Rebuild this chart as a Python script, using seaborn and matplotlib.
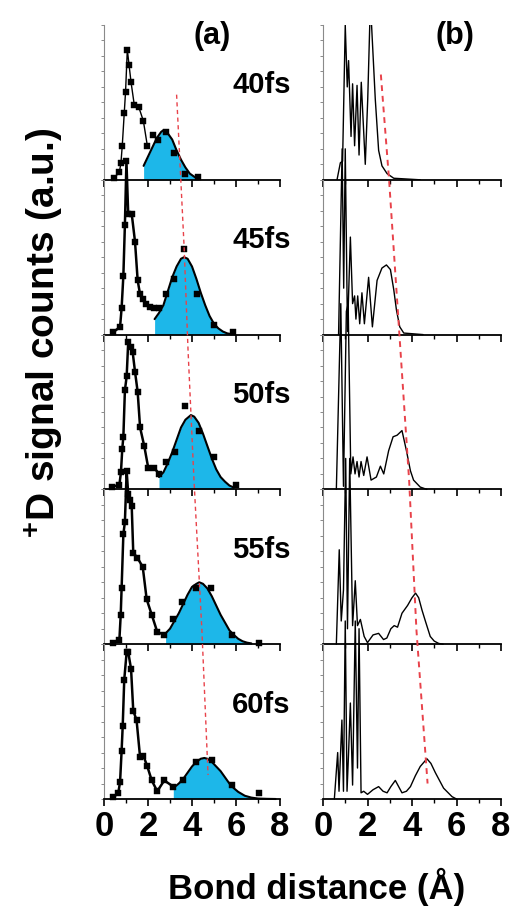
import numpy as np
import matplotlib
matplotlib.use('Agg')
import matplotlib.pyplot as plt
import seaborn as sns

# =====================
# DATA
# =====================
delays = ['40fs', '45fs', '50fs', '55fs', '60fs']

# (a) measured D+ counts (black squares)
sq40_x = [0.45, 0.70, 0.77, 0.83, 0.92, 0.98, 1.06, 1.14, 1.23, 1.38, 1.58, 1.79, 1.97, 2.21, 2.47, 2.80, 3.20, 3.68, 4.26]
sq40_y = [0.01, 0.05, 0.11, 0.22, 0.43, 0.57, 0.84, 0.74, 0.63, 0.48, 0.47, 0.38, 0.22, 0.29, 0.26, 0.31, 0.17, 0.04, 0.02]
sq45_x = [0.42, 0.73, 0.80, 0.88, 0.95, 1.02, 1.10, 1.26, 1.41, 1.53, 1.64, 1.76, 1.91, 2.09, 2.29, 2.50, 2.82, 3.20, 3.65, 4.24, 5.00, 5.88]
sq45_y = [0.015, 0.05, 0.17, 0.38, 0.71, 1.12, 0.78, 0.78, 0.60, 0.35, 0.26, 0.23, 0.20, 0.18, 0.17, 0.17, 0.26, 0.36, 0.55, 0.26, 0.06, 0.02]
sq50_x = [0.35, 0.70, 0.77, 0.83, 0.88, 0.95, 1.03, 1.10, 1.23, 1.30, 1.41, 1.53, 1.64, 1.83, 2.01, 2.27, 2.51, 2.82, 3.23, 3.68, 4.32, 5.00, 5.98]
sq50_y = [0.015, 0.03, 0.11, 0.26, 0.34, 0.64, 0.73, 0.95, 0.92, 0.89, 0.76, 0.63, 0.40, 0.28, 0.14, 0.14, 0.10, 0.18, 0.24, 0.54, 0.38, 0.21, 0.03]
sq55_x = [0.42, 0.70, 0.76, 0.80, 0.88, 0.95, 1.03, 1.10, 1.18, 1.26, 1.33, 1.51, 1.76, 1.94, 2.17, 2.42, 2.74, 3.12, 3.56, 4.17, 4.86, 5.80, 7.05]
sq55_y = [0.01, 0.03, 0.19, 0.36, 0.71, 0.79, 1.12, 0.97, 0.93, 0.89, 0.59, 0.56, 0.50, 0.29, 0.19, 0.08, 0.06, 0.16, 0.27, 0.36, 0.36, 0.06, 0.01]
sq60_x = [0.42, 0.65, 0.73, 0.80, 0.85, 0.92, 1.03, 1.10, 1.23, 1.33, 1.48, 1.64, 1.79, 1.97, 2.17, 2.42, 2.74, 3.15, 3.57, 4.18, 4.89, 5.83, 7.06]
sq60_y = [0.01, 0.04, 0.11, 0.31, 0.47, 0.77, 0.95, 0.95, 0.84, 0.57, 0.51, 0.27, 0.28, 0.21, 0.12, 0.05, 0.12, 0.08, 0.12, 0.24, 0.25, 0.09, 0.04]
# number of squares joined by the black line (the rest sit on the fit)
n_joined = [13, 15, 17, 17, 18]

# (a) Gaussian fits (cyan area)
fit40_x = [1.8, 2.0, 2.2, 2.4, 2.6, 2.7, 2.9, 3.1, 3.3, 3.5, 3.7, 3.9, 4.1, 4.3]
fit40_y = [0.09, 0.15, 0.21, 0.27, 0.31, 0.32, 0.30, 0.26, 0.19, 0.13, 0.08, 0.04, 0.02, 0.005]
fit45_x = [2.3, 2.5, 2.7, 2.9, 3.1, 3.3, 3.5, 3.64, 3.8, 4.0, 4.2, 4.4, 4.6, 4.8, 5.0, 5.2, 5.4, 5.6, 5.8]
fit45_y = [0.10, 0.14, 0.19, 0.28, 0.37, 0.44, 0.49, 0.50, 0.49, 0.44, 0.36, 0.27, 0.19, 0.12, 0.07, 0.04, 0.02, 0.008, 0.003]
fit50_x = [2.5, 2.7, 2.9, 3.1, 3.3, 3.5, 3.7, 3.95, 4.1, 4.3, 4.5, 4.7, 4.9, 5.1, 5.3, 5.5, 5.7, 5.9]
fit50_y = [0.08, 0.11, 0.17, 0.24, 0.32, 0.40, 0.45, 0.48, 0.47, 0.43, 0.36, 0.28, 0.20, 0.13, 0.08, 0.05, 0.025, 0.012]
fit55_x = [2.8, 3.0, 3.2, 3.4, 3.6, 3.8, 4.0, 4.2, 4.33, 4.5, 4.7, 4.9, 5.1, 5.3, 5.5, 5.7, 5.9, 6.1, 6.3, 6.5, 6.7]
fit55_y = [0.07, 0.10, 0.15, 0.20, 0.26, 0.32, 0.37, 0.39, 0.40, 0.39, 0.36, 0.31, 0.25, 0.19, 0.14, 0.09, 0.06, 0.035, 0.019, 0.010, 0.005]
fit60_x = [3.15, 3.4, 3.6, 3.8, 4.0, 4.2, 4.4, 4.56, 4.7, 4.9, 5.1, 5.3, 5.5, 5.7, 5.9, 6.1, 6.4, 6.7, 7.0, 7.4, 7.8]
fit60_y = [0.07, 0.10, 0.13, 0.17, 0.21, 0.24, 0.26, 0.265, 0.26, 0.24, 0.21, 0.18, 0.14, 0.10, 0.07, 0.046, 0.021, 0.009, 0.003, 0.001, 0.0]

# (b) simulated distributions
sim40_x = [0.63, 0.78, 0.88, 1.00, 1.09, 1.15, 1.26, 1.33, 1.42, 1.53, 1.62, 1.72, 1.90, 2.01, 2.13, 2.35, 2.50, 2.65, 2.88, 3.18, 4.37]
sim40_y = [0.0, 0.11, 0.12, 1.0, 0.60, 0.77, 0.28, 0.62, 0.22, 0.61, 0.16, 0.63, 0.10, 0.52, 1.15, 0.52, 0.19, 0.09, 0.04, 0.01, 0.0]
sim45_x = [0.70, 0.86, 0.93, 1.00, 1.10, 1.23, 1.33, 1.42, 1.48, 1.56, 1.65, 1.75, 1.86, 2.05, 2.22, 2.43, 2.65, 2.85, 3.03, 3.18, 3.30, 3.45, 3.63, 4.50]
sim45_y = [0.0, 1.2, 0.3, 1.2, 0.02, 0.63, 0.20, 0.25, 0.10, 0.25, 0.07, 0.27, 0.07, 0.37, 0.05, 0.35, 0.43, 0.45, 0.42, 0.29, 0.16, 0.05, 0.01, 0.0]
sim50_x = [0.60, 0.80, 0.92, 1.05, 1.13, 1.25, 1.35, 1.44, 1.53, 1.62, 1.71, 1.83, 1.98, 2.16, 2.40, 2.58, 2.73, 2.95, 3.15, 3.33, 3.55, 3.75, 3.93, 4.07, 4.37, 4.67]
sim50_y = [0.0, 1.2, 0.02, 1.15, 1.2, 0.10, 0.21, 0.10, 0.18, 0.08, 0.18, 0.09, 0.21, 0.06, 0.08, 0.15, 0.10, 0.25, 0.34, 0.35, 0.38, 0.25, 0.12, 0.06, 0.015, 0.0]
sim55_x = [0.60, 0.73, 0.82, 0.92, 1.02, 1.10, 1.20, 1.33, 1.45, 1.55, 1.68, 1.85, 2.00, 2.25, 2.50, 2.72, 2.87, 3.05, 3.20, 3.35, 3.55, 3.80, 4.00, 4.16, 4.30, 4.45, 4.60, 4.82, 5.00, 5.20, 5.40]
sim55_y = [0.0, 0.61, 0.15, 0.35, 1.2, 0.10, 1.2, 0.12, 0.41, 0.12, 0.16, 0.05, 0.01, 0.06, 0.07, 0.03, 0.04, 0.10, 0.12, 0.11, 0.20, 0.25, 0.30, 0.33, 0.30, 0.22, 0.15, 0.05, 0.02, 0.005, 0.0]
sim60_x = [0.51, 0.66, 0.72, 0.85, 0.92, 1.00, 1.08, 1.15, 1.23, 1.33, 1.45, 1.55, 1.62, 1.71, 1.83, 2.00, 2.25, 2.50, 2.70, 2.88, 3.05, 3.25, 3.55, 3.75, 3.93, 4.15, 4.37, 4.67, 4.85, 5.05, 5.42, 5.80, 6.00]
sim60_y = [0.0, 0.30, 0.05, 0.51, 0.05, 1.15, 0.05, 0.30, 0.62, 0.09, 1.15, 0.20, 1.1, 0.04, 0.05, 0.03, 0.06, 0.08, 0.05, 0.04, 0.08, 0.12, 0.04, 0.05, 0.08, 0.15, 0.21, 0.26, 0.23, 0.17, 0.07, 0.015, 0.0]

# red guide lines (y in panel units, 0 = bottom of 60fs, 5 = top of 40fs)
guide_a_x = [3.30, 3.64, 3.82, 4.09, 4.45, 4.73]
guide_a_y = [4.55, 3.57, 2.90, 2.06, 1.09, 0.155]
guide_b_x = [2.60, 2.97, 3.42, 3.87, 4.20, 4.70]
guide_b_y = [4.68, 4.00, 3.03, 2.06, 1.09, 0.10]

squares = [(sq40_x, sq40_y), (sq45_x, sq45_y), (sq50_x, sq50_y), (sq55_x, sq55_y), (sq60_x, sq60_y)]
fits = [(fit40_x, fit40_y), (fit45_x, fit45_y), (fit50_x, fit50_y), (fit55_x, fit55_y), (fit60_x, fit60_y)]
sims = [(sim40_x, sim40_y), (sim45_x, sim45_y), (sim50_x, sim50_y), (sim55_x, sim55_y), (sim60_x, sim60_y)]

# =====================
# STYLE
# =====================
sns.set_theme(style='ticks')
plt.rcParams['font.family'] = ['Liberation Sans', 'DejaVu Sans']
plt.rcParams['font.weight'] = 'bold'
plt.rcParams['text.color'] = 'black'
plt.rcParams['xtick.color'] = 'black'
plt.rcParams['xtick.labelcolor'] = 'black'
plt.rcParams['mathtext.fontset'] = 'custom'
plt.rcParams['mathtext.rm'] = 'Liberation Sans:bold'
plt.rcParams['mathtext.bf'] = 'Liberation Sans:bold'

W, H = 512, 909
top_px, row_px = 25, 154.8
col_a = (104, 176)
col_b = (323, 178)
cyan = '#1db7e9'
red = '#e8424a'

fig = plt.figure(figsize=(W / 100, H / 100), dpi=100)


def style(ax, last, clip_top):
    ax.set_xlim(0, 8)
    ax.set_ylim(0, 1)
    ax.set_facecolor('none')
    ax.spines['top'].set_visible(False)
    ax.spines['right'].set_visible(False)
    ax.spines['left'].set_color('#8a8a8a')
    ax.spines['left'].set_linewidth(0.8)
    ax.spines['bottom'].set_color('black')
    ax.spines['bottom'].set_linewidth(1.3)
    ax.set_xticks([0, 2, 4, 6, 8])
    ax.set_xticks([1, 3, 5, 7], minor=True)
    ax.set_yticks([0, 0.1, 0.2, 0.3, 0.4, 0.5, 0.6, 0.7, 0.8, 0.9, 1.0])
    ax.tick_params(axis='y', which='both', direction='out', length=2.5, width=0.7,
                   color='#8a8a8a', labelleft=False)
    ax.tick_params(axis='x', which='major', direction='out', length=5, width=1.2,
                   color='black', labelcolor='black', labelbottom=last, labelsize=25, pad=3)
    ax.tick_params(axis='x', which='minor', direction='out', length=3, width=1.0, color='black')
    ax.set_xlabel('')
    ax.set_ylabel('')
    for art in ax.lines + ax.collections:
        art.set_clip_on(clip_top)


for i in range(5):
    bottom = 1 - (top_px + (i + 1) * row_px) / H
    last = i == 4

    # ---- column (a): experiment ----
    axa = fig.add_axes([col_a[0] / W, bottom, col_a[1] / W, row_px / H])
    sx, sy = squares[i]
    fx, fy = fits[i]
    axa.fill_between(fx, fy, color=cyan, lw=0, zorder=1)
    sns.lineplot(x=fx, y=fy, ax=axa, color='black', lw=1.5, sort=False, estimator=None, zorder=2)
    n = n_joined[i]
    sns.lineplot(x=sx[:n], y=sy[:n], ax=axa, color='black', lw=1.0 if i == 0 else 1.8,
                 sort=False, estimator=None, zorder=3)
    sns.scatterplot(x=sx, y=sy, ax=axa, marker='s', s=24, color='black',
                    edgecolor='black', linewidth=0.3, zorder=4)
    style(axa, last, False)
    axa.text(1.06, 0.61, delays[i], transform=axa.transAxes, ha='right', va='center',
             fontsize=21, fontweight='bold', color='black')

    # ---- column (b): simulation ----
    axb = fig.add_axes([col_b[0] / W, bottom, col_b[1] / W, row_px / H])
    bx, by = sims[i]
    sns.lineplot(x=bx, y=by, ax=axb, color='black', lw=1.0, sort=False, estimator=None)
    style(axb, last, i == 0)

# red dashed guide lines across the stacked panels
panel_bottom = 1 - (top_px + 5 * row_px) / H
for col, gx, gy, lw in [(col_a, guide_a_x, guide_a_y, 1.0), (col_b, guide_b_x, guide_b_y, 1.4)]:
    ov = fig.add_axes([col[0] / W, panel_bottom, col[1] / W, 5 * row_px / H], zorder=10)
    ov.set_xlim(0, 8)
    ov.set_ylim(0, 5)
    ov.axis('off')
    ov.set_facecolor('none')
    sns.lineplot(x=gx, y=gy, ax=ov, color=red, lw=lw, sort=False, estimator=None)
    ov.lines[0].set_dashes([3, 2.5])

# panel titles and axis labels
fig.text(212 / W, 1 - 36 / H, '(a)', ha='center', va='center', fontsize=22, fontweight='bold')
fig.text(455 / W, 1 - 36 / H, '(b)', ha='center', va='center', fontsize=22, fontweight='bold')
fig.text(317 / W, 1 - 887 / H, 'Bond distance (Å)', ha='center', va='center',
         fontsize=25, fontweight='bold')
fig.text(44 / W, 1 - 333 / H, r'$^{+}$D signal counts (a.u.)', rotation=90,
         ha='center', va='center', fontsize=28, fontweight='bold')

plt.savefig('out.png', dpi=100)
